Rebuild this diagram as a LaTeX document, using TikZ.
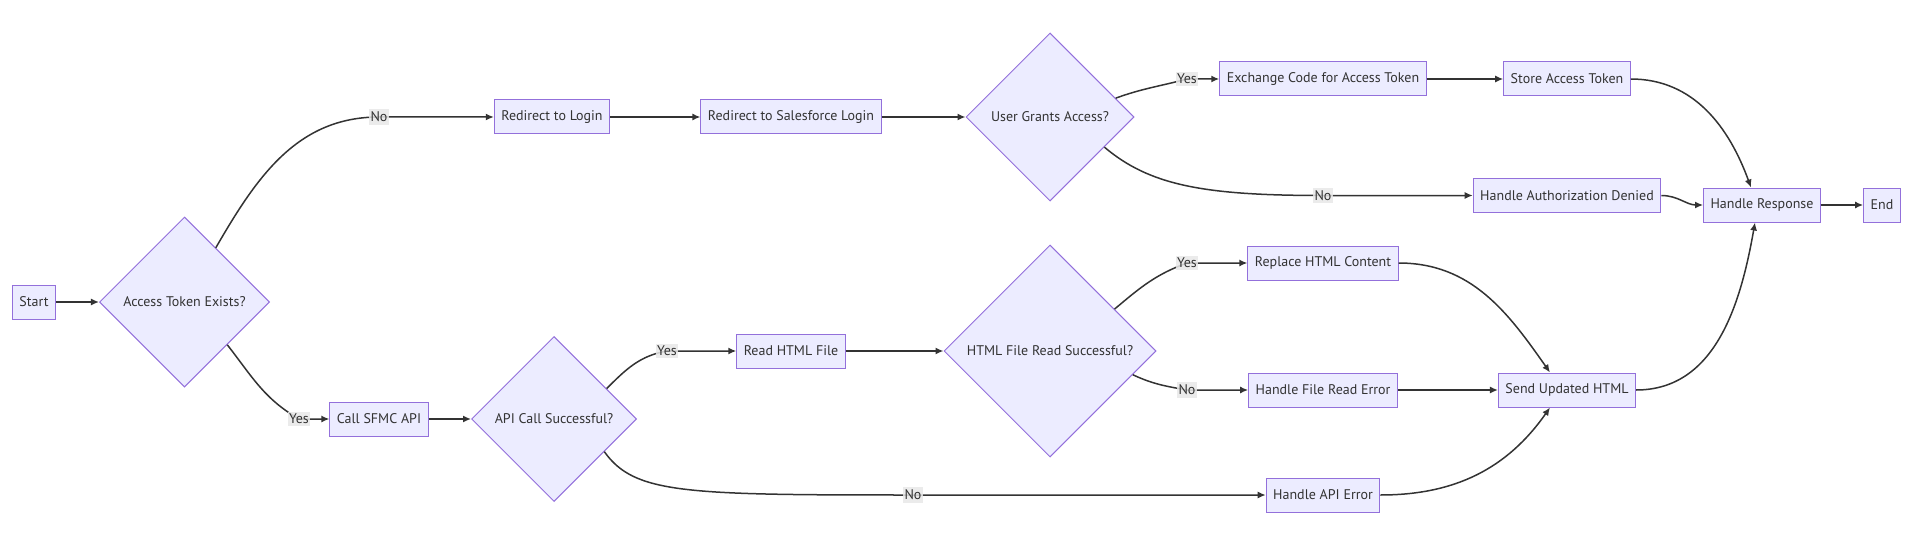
\documentclass[tikz,border=0pt]{standalone}
\usepackage{fontspec}
\setmainfont{PT Sans}
\usetikzlibrary{arrows.meta}
\usetikzlibrary{shapes.geometric}

\definecolor{nodefill}{HTML}{ECECFF}
\definecolor{nodeline}{HTML}{9370DB}
\definecolor{edgeline}{HTML}{333333}
\definecolor{labelfill}{HTML}{E8E8E8}

\tikzset{
  box/.style={draw=nodeline, fill=nodefill, line width=1pt,
    minimum height=34pt, inner xsep=7pt, text=edgeline,
    font=\fontsize{14}{16}\selectfont},
  choice/.style={diamond, draw=nodeline, fill=nodefill, line width=1pt,
    inner sep=0pt, text=edgeline, font=\fontsize{14}{16}\selectfont},
  flow/.style={draw=edgeline, line width=1.5pt,
    -{Latex[length=8pt,width=7pt]}},
  answer/.style={fill=labelfill, fill opacity=0.85, text opacity=1,
    inner xsep=1.5pt, inner ysep=2.5pt, text=edgeline,
    font=\fontsize{14}{16}\selectfont}
}

\begin{document}
\begin{tikzpicture}[x=1pt, y=1pt]

  \useasboundingbox (0,0) rectangle (1916,558);

  %% The nodes, lower branch:
  \node[box] (start) at (34,256) {Start};
  \node[choice, minimum size=170pt] (access) at (184.5,256) {Access Token Exists?};
  \node[box] (call) at (379,139) {Call SFMC API};
  \node[choice, minimum size=165pt] (apiok) at (554,139) {API Call Successful?};
  \node[box] (readhtml) at (791,207) {Read HTML File};
  \node[choice, minimum size=212pt] (htmlok) at (1050,207) {HTML File Read Successful?};
  \node[box] (replace) at (1323,295) {Replace HTML Content};
  \node[box] (fileerr) at (1323,168) {Handle File Read Error};
  \node[box] (apierr) at (1323,63) {Handle API Error};
  \node[box] (sendhtml) at (1567,168) {Send Updated HTML};

  %% The nodes, upper branch:
  \node[box] (login) at (552,441) {Redirect to Login};
  \node[box] (sflogin) at (791,441) {Redirect to Salesforce Login};
  \node[choice, minimum size=168pt] (grants) at (1050,441) {User Grants Access?};
  \node[box] (exchange) at (1323,479) {Exchange Code for Access Token};
  \node[box] (store) at (1567,479) {Store Access Token};
  \node[box] (denied) at (1567,362.5) {Handle Authorization Denied};
  \node[box] (response) at (1762,353) {Handle Response};
  \node[box] (finish) at (1882,353) {End};

  %% Where the edge labels sit:
  \coordinate (pNoLogin) at (379,441);
  \coordinate (pYesCall) at (299,139);
  \coordinate (pYesRead) at (667,207);
  \coordinate (pNoApi) at (913,63);
  \coordinate (pYesReplace) at (1187,295);
  \coordinate (pNoFile) at (1187,168);
  \coordinate (pYesExchange) at (1187,479);
  \coordinate (pNoDenied) at (1323,362.5);

  %% The connections:
  \draw[flow] (start) -- (access);
  \draw[flow] (access.60) to[out=60, in=180] (pNoLogin) -- (login);
  \draw[flow] (access.-45) to[out=-52, in=150] (pYesCall) -- (call);
  \draw[flow] (call) -- (apiok);
  \draw[flow] (apiok.30) to[out=45, in=190] (pYesRead) -- (readhtml);
  \draw[flow] (apiok.-33)
  .. controls ([xshift=30pt, yshift=-42pt]apiok.-33) and ([xshift=-230pt]pNoApi)
  .. (pNoApi) -- (apierr);
  \draw[flow] (readhtml) -- (htmlok);
  \draw[flow] (htmlok.33) to[out=40, in=200] (pYesReplace) -- (replace);
  \draw[flow] (htmlok.-16) to[out=-25, in=170] (pNoFile) -- (fileerr);
  \draw[flow] (replace.east) to[out=0, in=125] ([xshift=-17pt]sendhtml.north);
  \draw[flow] (fileerr) -- (sendhtml);
  \draw[flow] (apierr.east) to[out=0, in=-125] ([xshift=-17pt]sendhtml.south);
  \draw[flow] (sendhtml.east) to[out=0, in=-100] ([xshift=-7pt]response.south);
  \draw[flow] (login) -- (sflogin);
  \draw[flow] (sflogin) -- (grants);
  \draw[flow] (grants.16) to[out=20, in=195] (pYesExchange) -- (exchange);
  \draw[flow] (grants.-29)
  .. controls ([xshift=45pt, yshift=-38pt]grants.-29) and ([xshift=-120pt]pNoDenied)
  .. (pNoDenied) -- (denied);
  \draw[flow] (exchange) -- (store);
  \draw[flow] (store.east) to[out=0, in=110] ([xshift=-11pt]response.north);
  \draw[flow] (denied.east) to[out=0, in=180] (response.west);
  \draw[flow] (response) -- (finish);

  %% The edge labels:
  \node[answer] (tNoLogin) at (pNoLogin) {No};
  \node[answer] (tYesCall) at (pYesCall) {Yes};
  \node[answer] (tYesRead) at (pYesRead) {Yes};
  \node[answer] (tNoApi) at (pNoApi) {No};
  \node[answer] (tYesReplace) at (pYesReplace) {Yes};
  \node[answer] (tNoFile) at (pNoFile) {No};
  \node[answer] (tYesExchange) at (pYesExchange) {Yes};
  \node[answer] (tNoDenied) at (pNoDenied) {No};

\end{tikzpicture}
\end{document}
